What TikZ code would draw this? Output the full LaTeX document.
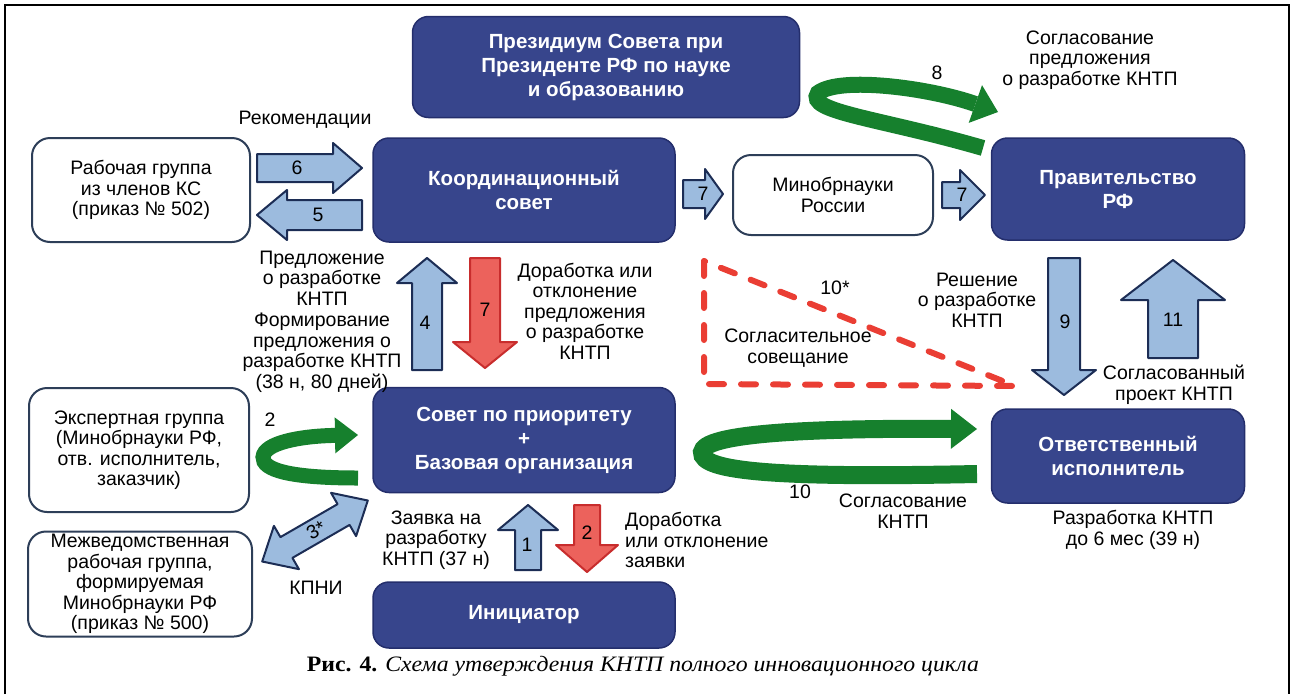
\documentclass[tikz,border=0pt]{standalone}
\usepackage{fontspec}
\setmainfont{Liberation Sans}
\newfontfamily\capfont[FakeStretch=1.08]{Liberation Serif}
\usetikzlibrary{arrows.meta}

\definecolor{navy}{RGB}{55,69,140}
\definecolor{navyedge}{RGB}{36,46,108}
\definecolor{boxedge}{RGB}{45,62,88}
\definecolor{lightblue}{RGB}{156,187,222}
\definecolor{arrowedge}{RGB}{28,45,85}
\definecolor{redfill}{RGB}{236,98,92}
\definecolor{rededge}{RGB}{200,45,45}
\definecolor{grn}{RGB}{22,128,45}
\definecolor{dashred}{RGB}{234,62,52}

\tikzset{darkbox/.style={draw=navyedge,line width=1.5pt,fill=navy,rounded corners=16pt,text=white,font=\fontsize{20.5}{24}\selectfont\bfseries,align=center,inner sep=0pt}}
\tikzset{lightbox/.style={draw=boxedge,line width=2pt,fill=white,rounded corners=18pt,font=\fontsize{19.5}{20.5}\selectfont,align=center,inner sep=0pt}}
\tikzset{lbl/.style={font=\fontsize{19.5}{20.5}\selectfont,align=center,inner sep=0pt}}
\tikzset{bluearr/.style={draw=arrowedge,line width=2pt,line join=round,fill=lightblue}}
\tikzset{redarr/.style={draw=rededge,line width=2pt,line join=round,fill=redfill}}
\tikzset{greenarr/.style={draw=grn,line width=16pt}}

% block arrow: style, tail, angle, length, head length, half shaft, half head
\newcommand{\barrow}[7]{%
  \draw[#1,shift={#2},rotate=#3] (0,-#6) -- (#4-#5,-#6) -- (#4-#5,-#7) -- (#4,0)
    -- (#4-#5,#7) -- (#4-#5,#6) -- (0,#6) -- cycle;}

\begin{document}
\begin{tikzpicture}[x=1pt,y=-1pt]
    \useasboundingbox (0,0) rectangle (1296,694);
    \draw[line width=2pt] (5,694) -- (5,5) -- (1289,5) -- (1289,694);

    % green arrows
    \draw[greenarr,-{Triangle[length=24pt,width=40pt,line width=0pt]}] (983,148) .. controls (880,118) and (805,112) .. (818,93) .. controls (840,76) and (930,88) .. (998,112);
    \draw[greenarr,line width=18pt,-{Triangle[length=26pt,width=40pt,line width=0pt]}] (977,474) .. controls (780,478) and (700,472) .. (702,452) .. controls (704,434) and (800,428) .. (977,429);
    \draw[greenarr,line width=15pt,-{Triangle[length=23pt,width=36pt,line width=0pt]}] (358,478) .. controls (290,478) and (262,470) .. (263,457) .. controls (264,443) and (300,436) .. (358,435);

    % boxes
    \node[darkbox,minimum width=387pt,minimum height=101pt] (prez) at (606,67) {Президиум Совета при\\Президенте РФ по науке\\и образованию};
    \node[darkbox,minimum width=302pt,minimum height=104pt] (ks) at (524,190) {Координационный\\совет};
    \node[lightbox,minimum width=218pt,minimum height=104pt] (rabgr) at (141,190) {Рабочая группа\\из членов КС\\(приказ № 502)};
    \node[lightbox,minimum width=200pt,minimum height=80pt] (minobr) at (833,195) {Минобрнауки\\России};
    \node[darkbox,minimum width=253pt,minimum height=102pt] (prav) at (1118,189) {Правительство\\РФ};
    \node[darkbox,minimum width=302pt,minimum height=105pt] (sovet) at (524,440) {Совет по приоритету\\+\\Базовая организация};
    \node[lightbox,minimum width=220pt,minimum height=124pt] (exgr) at (139,450) {Экспертная группа\\(Минобрнауки РФ,\\отв. исполнитель,\\заказчик)};
    \node[lightbox,minimum width=224pt,minimum height=105pt] (mvrg) at (140,584) {Межведомственная\\рабочая группа,\\формируемая\\Минобрнауки РФ\\(приказ № 500)};
    \node[darkbox,minimum width=302pt,minimum height=66pt] (init) at (524,615) {Инициатор};
    \node[darkbox,minimum width=253pt,minimum height=94pt] (otv) at (1118,456) {Ответственный\\исполнитель};

    % block arrows
    \barrow{bluearr}{(257,168)}{0}{105}{29}{14}{25}
    \node[lbl] (n6) at (297,168) {6};
    \barrow{bluearr}{(362,215)}{180}{105}{30}{15}{25}
    \node[lbl] (n5) at (318,215) {5};
    \barrow{bluearr}{(683,194)}{0}{40}{18}{14}{25}
    \node[lbl] (n7a) at (703,194) {7};
    \barrow{bluearr}{(942,195)}{0}{43}{25}{13}{25}
    \node[lbl] (n7b) at (962,195) {7};
    \barrow{bluearr}{(427,370)}{90}{112}{25}{15}{30}
    \node[lbl] (n4) at (425,323) {4};
    \barrow{redarr}{(485,258)}{-90}{110}{26}{15}{32}
    \node[lbl] (n7c) at (485,310) {7};
    \barrow{bluearr}{(528,570)}{90}{65}{25}{13}{30}
    \node[lbl] (n1) at (527,545) {1};
    \barrow{redarr}{(587,505)}{-90}{67}{27}{13}{31}
    \node[lbl] (n2) at (587,533) {2};
    \barrow{bluearr}{(1064,258)}{-90}{137}{25}{16}{32}
    \node[lbl] (n9) at (1065,322) {9};
    \barrow{bluearr}{(1173,358)}{90}{98}{40}{25}{52}
    \node[lbl] (n11) at (1173,320) {11};
    \draw[bluearr,shift={(315,531)},rotate=30] (-61,0) -- (-33,-25) -- (-33,-12) -- (33,-12) -- (33,-25) -- (61,0) -- (33,25) -- (33,12) -- (-33,12) -- (-33,25) -- cycle;
    \node[lbl,rotate=30] (n3) at (316,530) {3*};

    % dashed triangle
    \draw[dashred,line width=6pt,line cap=round,dash pattern=on 15pt off 17pt] (704,261) -- (704,384) -- (1015,386) -- cycle;

    % labels
    \node[lbl] (lrec) at (305,120) {Рекомендации};
    \node[lbl] (lpred) at (322,278) {Предложение\\о разработке\\КНТП};
    \node[lbl] (lform) at (322,353) {Формирование\\предложения о\\разработке КНТП\\(38 н, 80 дней)};
    \node[lbl] (ldor) at (585,311) {Доработка или\\отклонение\\предложения\\о разработке\\КНТП};
    \node[lbl] (l10s) at (835,288) {10*};
    \node[lbl] (lsov) at (798,348) {Согласительное\\совещание};
    \node[lbl] (lresh) at (977,300) {Решение\\о разработке\\КНТП};
    \node[lbl] (lproj) at (1174,385) {Согласованный\\проект КНТП};
    \node[lbl] (l8) at (937,73) {8};
    \node[lbl] (lsoglpr) at (1090,60) {Согласование\\предложения\\о разработке КНТП};
    \node[lbl] (lg2) at (270,420) {2};
    \node[lbl] (l10) at (800,492) {10};
    \node[lbl] (lsoglk) at (903,511) {Согласование\\КНТП};
    \node[lbl] (lrazr) at (1133,530) {Разработка КНТП\\до 6 мес (39 н)};
    \node[lbl] (lzay) at (436,540) {Заявка на\\разработку\\КНТП (37 н)};
    \node[lbl,align=left,anchor=west] (ldorz) at (625,540) {Доработка\\или отклонение\\заявки};
    \node[lbl] (lkpni) at (316,588) {КПНИ};

    % caption
    \node[font=\capfont\fontsize{22}{24}\selectfont,inner sep=0pt] (cap) at (643,666) {\textbf{Рис. 4.} \textit{Схема утверждения КНТП полного инновационного цикла}};
\end{tikzpicture}
\end{document}
